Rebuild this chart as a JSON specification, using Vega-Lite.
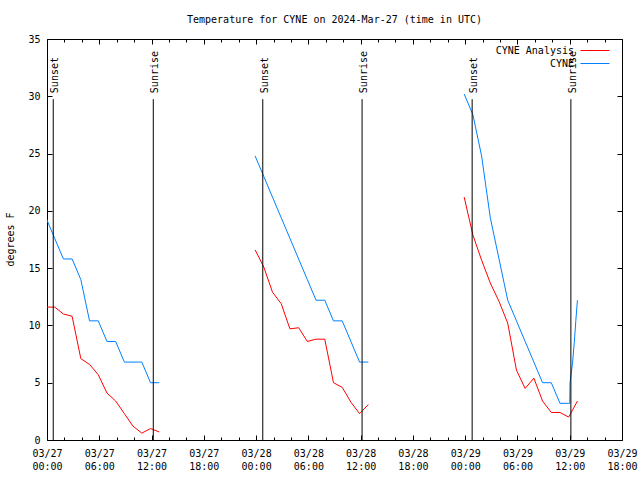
{
  "$schema": "https://vega.github.io/schema/vega-lite/v6.json",
  "width": 575,
  "height": 401,
  "autosize": {"type": "none"},
  "padding": {"left": 47, "top": 39, "right": 18, "bottom": 40},
  "background": "white",
  "title": {"text": "Temperature for CYNE on 2024-Mar-27 (time in UTC)", "font": "DejaVu Sans Mono", "fontSize": 10, "fontWeight": "normal", "offset": 9, "anchor": "middle", "color": "black"},
  "config": {
    "view": {"stroke": "black", "strokeWidth": 1},
    "font": "DejaVu Sans Mono",
    "axis": {"domain": false, "grid": false, "tickColor": "black", "tickWidth": 1, "labelColor": "black", "labelFont": "DejaVu Sans Mono", "labelFontSize": 10, "titleFont": "DejaVu Sans Mono", "titleFontSize": 10, "titleFontWeight": "normal", "titleColor": "black"}
  },
  "datasets": {
    "obs": [
      {"series": "CYNE Analysis", "run": 1, "time": "2024-03-26T23:53:00Z", "temp": 11.6},
      {"series": "CYNE Analysis", "run": 1, "time": "2024-03-27T00:53:00Z", "temp": 11.6},
      {"series": "CYNE Analysis", "run": 1, "time": "2024-03-27T01:53:00Z", "temp": 11.0},
      {"series": "CYNE Analysis", "run": 1, "time": "2024-03-27T02:53:00Z", "temp": 10.8},
      {"series": "CYNE Analysis", "run": 1, "time": "2024-03-27T03:53:00Z", "temp": 7.1},
      {"series": "CYNE Analysis", "run": 1, "time": "2024-03-27T04:53:00Z", "temp": 6.6},
      {"series": "CYNE Analysis", "run": 1, "time": "2024-03-27T05:53:00Z", "temp": 5.7},
      {"series": "CYNE Analysis", "run": 1, "time": "2024-03-27T06:53:00Z", "temp": 4.1},
      {"series": "CYNE Analysis", "run": 1, "time": "2024-03-27T07:53:00Z", "temp": 3.4},
      {"series": "CYNE Analysis", "run": 1, "time": "2024-03-27T08:53:00Z", "temp": 2.3},
      {"series": "CYNE Analysis", "run": 1, "time": "2024-03-27T09:53:00Z", "temp": 1.2},
      {"series": "CYNE Analysis", "run": 1, "time": "2024-03-27T10:53:00Z", "temp": 0.6},
      {"series": "CYNE Analysis", "run": 1, "time": "2024-03-27T11:53:00Z", "temp": 1.0},
      {"series": "CYNE Analysis", "run": 1, "time": "2024-03-27T12:53:00Z", "temp": 0.7},
      {"series": "CYNE Analysis", "run": 2, "time": "2024-03-27T23:53:00Z", "temp": 16.6},
      {"series": "CYNE Analysis", "run": 2, "time": "2024-03-28T00:53:00Z", "temp": 15.1},
      {"series": "CYNE Analysis", "run": 2, "time": "2024-03-28T01:53:00Z", "temp": 12.9},
      {"series": "CYNE Analysis", "run": 2, "time": "2024-03-28T02:53:00Z", "temp": 11.9},
      {"series": "CYNE Analysis", "run": 2, "time": "2024-03-28T03:53:00Z", "temp": 9.7},
      {"series": "CYNE Analysis", "run": 2, "time": "2024-03-28T04:53:00Z", "temp": 9.8},
      {"series": "CYNE Analysis", "run": 2, "time": "2024-03-28T05:53:00Z", "temp": 8.6},
      {"series": "CYNE Analysis", "run": 2, "time": "2024-03-28T06:53:00Z", "temp": 8.8},
      {"series": "CYNE Analysis", "run": 2, "time": "2024-03-28T07:53:00Z", "temp": 8.8},
      {"series": "CYNE Analysis", "run": 2, "time": "2024-03-28T08:53:00Z", "temp": 5.0},
      {"series": "CYNE Analysis", "run": 2, "time": "2024-03-28T09:53:00Z", "temp": 4.6},
      {"series": "CYNE Analysis", "run": 2, "time": "2024-03-28T10:53:00Z", "temp": 3.3},
      {"series": "CYNE Analysis", "run": 2, "time": "2024-03-28T11:53:00Z", "temp": 2.3},
      {"series": "CYNE Analysis", "run": 2, "time": "2024-03-28T12:53:00Z", "temp": 3.1},
      {"series": "CYNE Analysis", "run": 3, "time": "2024-03-28T23:53:00Z", "temp": 21.2},
      {"series": "CYNE Analysis", "run": 3, "time": "2024-03-29T00:53:00Z", "temp": 17.9},
      {"series": "CYNE Analysis", "run": 3, "time": "2024-03-29T01:53:00Z", "temp": 15.7},
      {"series": "CYNE Analysis", "run": 3, "time": "2024-03-29T02:53:00Z", "temp": 13.7},
      {"series": "CYNE Analysis", "run": 3, "time": "2024-03-29T03:53:00Z", "temp": 12.1},
      {"series": "CYNE Analysis", "run": 3, "time": "2024-03-29T04:53:00Z", "temp": 10.2},
      {"series": "CYNE Analysis", "run": 3, "time": "2024-03-29T05:53:00Z", "temp": 6.1},
      {"series": "CYNE Analysis", "run": 3, "time": "2024-03-29T06:53:00Z", "temp": 4.5},
      {"series": "CYNE Analysis", "run": 3, "time": "2024-03-29T07:53:00Z", "temp": 5.4},
      {"series": "CYNE Analysis", "run": 3, "time": "2024-03-29T08:53:00Z", "temp": 3.4},
      {"series": "CYNE Analysis", "run": 3, "time": "2024-03-29T09:53:00Z", "temp": 2.4},
      {"series": "CYNE Analysis", "run": 3, "time": "2024-03-29T10:53:00Z", "temp": 2.4},
      {"series": "CYNE Analysis", "run": 3, "time": "2024-03-29T11:53:00Z", "temp": 2.0},
      {"series": "CYNE Analysis", "run": 3, "time": "2024-03-29T12:53:00Z", "temp": 3.4},
      {"series": "CYNE", "run": 1, "time": "2024-03-26T23:53:00Z", "temp": 19.4},
      {"series": "CYNE", "run": 1, "time": "2024-03-27T00:53:00Z", "temp": 17.6},
      {"series": "CYNE", "run": 1, "time": "2024-03-27T01:53:00Z", "temp": 15.8},
      {"series": "CYNE", "run": 1, "time": "2024-03-27T02:53:00Z", "temp": 15.8},
      {"series": "CYNE", "run": 1, "time": "2024-03-27T03:53:00Z", "temp": 14.0},
      {"series": "CYNE", "run": 1, "time": "2024-03-27T04:53:00Z", "temp": 10.4},
      {"series": "CYNE", "run": 1, "time": "2024-03-27T05:53:00Z", "temp": 10.4},
      {"series": "CYNE", "run": 1, "time": "2024-03-27T06:53:00Z", "temp": 8.6},
      {"series": "CYNE", "run": 1, "time": "2024-03-27T07:53:00Z", "temp": 8.6},
      {"series": "CYNE", "run": 1, "time": "2024-03-27T08:53:00Z", "temp": 6.8},
      {"series": "CYNE", "run": 1, "time": "2024-03-27T09:53:00Z", "temp": 6.8},
      {"series": "CYNE", "run": 1, "time": "2024-03-27T10:53:00Z", "temp": 6.8},
      {"series": "CYNE", "run": 1, "time": "2024-03-27T11:53:00Z", "temp": 5.0},
      {"series": "CYNE", "run": 1, "time": "2024-03-27T12:53:00Z", "temp": 5.0},
      {"series": "CYNE", "run": 2, "time": "2024-03-27T23:53:00Z", "temp": 24.8},
      {"series": "CYNE", "run": 2, "time": "2024-03-28T00:53:00Z", "temp": 23.0},
      {"series": "CYNE", "run": 2, "time": "2024-03-28T01:53:00Z", "temp": 21.2},
      {"series": "CYNE", "run": 2, "time": "2024-03-28T02:53:00Z", "temp": 19.4},
      {"series": "CYNE", "run": 2, "time": "2024-03-28T03:53:00Z", "temp": 17.6},
      {"series": "CYNE", "run": 2, "time": "2024-03-28T04:53:00Z", "temp": 15.8},
      {"series": "CYNE", "run": 2, "time": "2024-03-28T05:53:00Z", "temp": 14.0},
      {"series": "CYNE", "run": 2, "time": "2024-03-28T06:53:00Z", "temp": 12.2},
      {"series": "CYNE", "run": 2, "time": "2024-03-28T07:53:00Z", "temp": 12.2},
      {"series": "CYNE", "run": 2, "time": "2024-03-28T08:53:00Z", "temp": 10.4},
      {"series": "CYNE", "run": 2, "time": "2024-03-28T09:53:00Z", "temp": 10.4},
      {"series": "CYNE", "run": 2, "time": "2024-03-28T10:53:00Z", "temp": 8.6},
      {"series": "CYNE", "run": 2, "time": "2024-03-28T11:53:00Z", "temp": 6.8},
      {"series": "CYNE", "run": 2, "time": "2024-03-28T12:53:00Z", "temp": 6.8},
      {"series": "CYNE", "run": 3, "time": "2024-03-28T23:53:00Z", "temp": 30.2},
      {"series": "CYNE", "run": 3, "time": "2024-03-29T00:53:00Z", "temp": 28.4},
      {"series": "CYNE", "run": 3, "time": "2024-03-29T01:53:00Z", "temp": 24.8},
      {"series": "CYNE", "run": 3, "time": "2024-03-29T02:53:00Z", "temp": 19.4},
      {"series": "CYNE", "run": 3, "time": "2024-03-29T03:53:00Z", "temp": 15.8},
      {"series": "CYNE", "run": 3, "time": "2024-03-29T04:53:00Z", "temp": 12.2},
      {"series": "CYNE", "run": 3, "time": "2024-03-29T05:53:00Z", "temp": 10.4},
      {"series": "CYNE", "run": 3, "time": "2024-03-29T06:53:00Z", "temp": 8.6},
      {"series": "CYNE", "run": 3, "time": "2024-03-29T07:53:00Z", "temp": 6.8},
      {"series": "CYNE", "run": 3, "time": "2024-03-29T08:53:00Z", "temp": 5.0},
      {"series": "CYNE", "run": 3, "time": "2024-03-29T09:53:00Z", "temp": 5.0},
      {"series": "CYNE", "run": 3, "time": "2024-03-29T10:53:00Z", "temp": 3.2},
      {"series": "CYNE", "run": 3, "time": "2024-03-29T11:53:00Z", "temp": 3.2},
      {"series": "CYNE", "run": 3, "time": "2024-03-29T12:00:00Z", "temp": 3.2},
      {"series": "CYNE", "run": 3, "time": "2024-03-29T12:02:00Z", "temp": 5.0},
      {"series": "CYNE", "run": 3, "time": "2024-03-29T12:20:00Z", "temp": 6.8},
      {"series": "CYNE", "run": 3, "time": "2024-03-29T12:32:00Z", "temp": 8.6},
      {"series": "CYNE", "run": 3, "time": "2024-03-29T12:42:00Z", "temp": 10.4},
      {"series": "CYNE", "run": 3, "time": "2024-03-29T12:53:00Z", "temp": 12.2}
    ],
    "sun": [
      {"event": "Sunset", "time": "2024-03-27T00:43:00Z"},
      {"event": "Sunrise", "time": "2024-03-27T12:12:00Z"},
      {"event": "Sunset", "time": "2024-03-28T00:46:00Z"},
      {"event": "Sunrise", "time": "2024-03-28T12:10:00Z"},
      {"event": "Sunset", "time": "2024-03-29T00:48:00Z"},
      {"event": "Sunrise", "time": "2024-03-29T12:08:00Z"}
    ]
  },
  "layer": [
    {
      "data": {"name": "obs"},
      "transform": [{"filter": "datum.series == 'CYNE Analysis'"}],
      "mark": {"type": "line", "clip": true, "strokeWidth": 1},
      "encoding": {
        "x": {
          "field": "time", "type": "temporal",
          "scale": {"type": "utc", "domain": [{"year": 2024, "month": 3, "date": 27, "hours": 0, "utc": true}, {"year": 2024, "month": 3, "date": 29, "hours": 18, "utc": true}]},
          "axis": {"orient": "bottom", "title": null, "values": [
            {"year": 2024, "month": 3, "date": 27, "hours": 0, "utc": true}, {"year": 2024, "month": 3, "date": 27, "hours": 6, "utc": true}, {"year": 2024, "month": 3, "date": 27, "hours": 12, "utc": true}, {"year": 2024, "month": 3, "date": 27, "hours": 18, "utc": true},
            {"year": 2024, "month": 3, "date": 28, "hours": 0, "utc": true}, {"year": 2024, "month": 3, "date": 28, "hours": 6, "utc": true}, {"year": 2024, "month": 3, "date": 28, "hours": 12, "utc": true}, {"year": 2024, "month": 3, "date": 28, "hours": 18, "utc": true},
            {"year": 2024, "month": 3, "date": 29, "hours": 0, "utc": true}, {"year": 2024, "month": 3, "date": 29, "hours": 6, "utc": true}, {"year": 2024, "month": 3, "date": 29, "hours": 12, "utc": true}, {"year": 2024, "month": 3, "date": 29, "hours": 18, "utc": true}],
            "labelExpr": "utcFormat(datum.value, '%m/%d')", "offset": -5, "tickSize": 5, "labelPadding": 8, "labelFlush": false, "labelOverlap": false}
        },
        "y": {
          "field": "temp", "type": "quantitative",
          "scale": {"domain": [0, 35], "nice": false, "zero": false},
          "axis": {"orient": "left", "values": [0, 5, 10, 15, 20, 25, 30, 35], "offset": -5, "tickSize": 5, "labelPadding": 7, "title": "degrees F", "titleX": -42, "titleY": 200, "titleAngle": 270, "titleAlign": "center", "titleBaseline": "middle"}
        },
        "color": {
          "field": "series", "type": "nominal",
          "scale": {"domain": ["CYNE Analysis", "CYNE"], "range": ["#ff0000", "#0080ff"]},
          "legend": {"orient": "none", "legendX": 540.5, "legendY": 4, "title": null, "symbolType": "M-2.07,0H2.07", "symbolSize": 196, "symbolStrokeWidth": 1, "symbolFillColor": "transparent", "labelAlign": "right", "labelOffset": -28.5, "labelFont": "DejaVu Sans Mono", "labelFontSize": 10, "labelColor": "black", "padding": 0, "rowPadding": 0, "offset": 0}
        },
        "detail": {"field": "run", "type": "nominal"}
      }
    },
    {
      "data": {"name": "obs"},
      "transform": [{"filter": "datum.series == 'CYNE'"}],
      "mark": {"type": "line", "clip": true, "strokeWidth": 1},
      "encoding": {
        "x": {
          "field": "time", "type": "temporal", "scale": {"type": "utc"},
          "axis": {"orient": "bottom", "title": null, "values": [
            {"year": 2024, "month": 3, "date": 27, "hours": 0, "utc": true}, {"year": 2024, "month": 3, "date": 27, "hours": 6, "utc": true}, {"year": 2024, "month": 3, "date": 27, "hours": 12, "utc": true}, {"year": 2024, "month": 3, "date": 27, "hours": 18, "utc": true},
            {"year": 2024, "month": 3, "date": 28, "hours": 0, "utc": true}, {"year": 2024, "month": 3, "date": 28, "hours": 6, "utc": true}, {"year": 2024, "month": 3, "date": 28, "hours": 12, "utc": true}, {"year": 2024, "month": 3, "date": 28, "hours": 18, "utc": true},
            {"year": 2024, "month": 3, "date": 29, "hours": 0, "utc": true}, {"year": 2024, "month": 3, "date": 29, "hours": 6, "utc": true}, {"year": 2024, "month": 3, "date": 29, "hours": 12, "utc": true}, {"year": 2024, "month": 3, "date": 29, "hours": 18, "utc": true}],
            "labelExpr": "utcFormat(datum.value, '%H:%M')", "ticks": false, "labelPadding": 21, "labelFlush": false, "labelOverlap": false}
        },
        "y": {"field": "temp", "type": "quantitative", "axis": null},
        "color": {"field": "series", "type": "nominal"},
        "detail": {"field": "run", "type": "nominal"}
      }
    },
    {
      "data": {"name": "sun"},
      "transform": [{"filter": "datum.event == 'Sunset'"}],
      "mark": {"type": "rule", "color": "black", "strokeWidth": 1},
      "encoding": {
        "x": {"field": "time", "type": "temporal", "scale": {"type": "utc"}, "axis": {"orient": "bottom", "title": null, "values": [
            {"year": 2024, "month": 3, "date": 27, "hours": 2, "utc": true}, {"year": 2024, "month": 3, "date": 27, "hours": 4, "utc": true}, {"year": 2024, "month": 3, "date": 27, "hours": 8, "utc": true}, {"year": 2024, "month": 3, "date": 27, "hours": 10, "utc": true},
            {"year": 2024, "month": 3, "date": 27, "hours": 14, "utc": true}, {"year": 2024, "month": 3, "date": 27, "hours": 16, "utc": true}, {"year": 2024, "month": 3, "date": 27, "hours": 20, "utc": true}, {"year": 2024, "month": 3, "date": 27, "hours": 22, "utc": true},
            {"year": 2024, "month": 3, "date": 28, "hours": 2, "utc": true}, {"year": 2024, "month": 3, "date": 28, "hours": 4, "utc": true}, {"year": 2024, "month": 3, "date": 28, "hours": 8, "utc": true}, {"year": 2024, "month": 3, "date": 28, "hours": 10, "utc": true},
            {"year": 2024, "month": 3, "date": 28, "hours": 14, "utc": true}, {"year": 2024, "month": 3, "date": 28, "hours": 16, "utc": true}, {"year": 2024, "month": 3, "date": 28, "hours": 20, "utc": true}, {"year": 2024, "month": 3, "date": 28, "hours": 22, "utc": true},
            {"year": 2024, "month": 3, "date": 29, "hours": 2, "utc": true}, {"year": 2024, "month": 3, "date": 29, "hours": 4, "utc": true}, {"year": 2024, "month": 3, "date": 29, "hours": 8, "utc": true}, {"year": 2024, "month": 3, "date": 29, "hours": 10, "utc": true},
            {"year": 2024, "month": 3, "date": 29, "hours": 14, "utc": true}, {"year": 2024, "month": 3, "date": 29, "hours": 16, "utc": true}],
            "labels": false, "offset": -3, "tickSize": 3}},
        "y": {"datum": 0, "type": "quantitative", "axis": {"orient": "right", "title": null, "values": [0, 5, 10, 15, 20, 25, 30, 35], "labels": false, "offset": -5, "tickSize": 5}},
        "y2": {"datum": 29.75}
      }
    },
    {
      "data": {"name": "sun"},
      "transform": [{"filter": "datum.event == 'Sunrise'"}],
      "mark": {"type": "rule", "color": "black", "strokeWidth": 1},
      "encoding": {
        "x": {"field": "time", "type": "temporal", "scale": {"type": "utc"}, "axis": {"orient": "top", "title": null, "values": [
            {"year": 2024, "month": 3, "date": 27, "hours": 0, "utc": true}, {"year": 2024, "month": 3, "date": 27, "hours": 6, "utc": true}, {"year": 2024, "month": 3, "date": 27, "hours": 12, "utc": true}, {"year": 2024, "month": 3, "date": 27, "hours": 18, "utc": true},
            {"year": 2024, "month": 3, "date": 28, "hours": 0, "utc": true}, {"year": 2024, "month": 3, "date": 28, "hours": 6, "utc": true}, {"year": 2024, "month": 3, "date": 28, "hours": 12, "utc": true}, {"year": 2024, "month": 3, "date": 28, "hours": 18, "utc": true},
            {"year": 2024, "month": 3, "date": 29, "hours": 0, "utc": true}, {"year": 2024, "month": 3, "date": 29, "hours": 6, "utc": true}, {"year": 2024, "month": 3, "date": 29, "hours": 12, "utc": true}, {"year": 2024, "month": 3, "date": 29, "hours": 18, "utc": true}],
            "labels": false, "offset": -5, "tickSize": 5}},
        "y": {"datum": 0, "type": "quantitative", "axis": null},
        "y2": {"datum": 29.75}
      }
    },
    {
      "data": {"name": "sun"},
      "mark": {"type": "text", "angle": 270, "align": "left", "baseline": "middle", "dx": 6, "dy": 2, "font": "DejaVu Sans Mono", "fontSize": 10, "color": "black"},
      "encoding": {
        "x": {"field": "time", "type": "temporal", "scale": {"type": "utc"}, "axis": {"orient": "top", "title": null, "values": [
            {"year": 2024, "month": 3, "date": 27, "hours": 2, "utc": true}, {"year": 2024, "month": 3, "date": 27, "hours": 4, "utc": true}, {"year": 2024, "month": 3, "date": 27, "hours": 8, "utc": true}, {"year": 2024, "month": 3, "date": 27, "hours": 10, "utc": true},
            {"year": 2024, "month": 3, "date": 27, "hours": 14, "utc": true}, {"year": 2024, "month": 3, "date": 27, "hours": 16, "utc": true}, {"year": 2024, "month": 3, "date": 27, "hours": 20, "utc": true}, {"year": 2024, "month": 3, "date": 27, "hours": 22, "utc": true},
            {"year": 2024, "month": 3, "date": 28, "hours": 2, "utc": true}, {"year": 2024, "month": 3, "date": 28, "hours": 4, "utc": true}, {"year": 2024, "month": 3, "date": 28, "hours": 8, "utc": true}, {"year": 2024, "month": 3, "date": 28, "hours": 10, "utc": true},
            {"year": 2024, "month": 3, "date": 28, "hours": 14, "utc": true}, {"year": 2024, "month": 3, "date": 28, "hours": 16, "utc": true}, {"year": 2024, "month": 3, "date": 28, "hours": 20, "utc": true}, {"year": 2024, "month": 3, "date": 28, "hours": 22, "utc": true},
            {"year": 2024, "month": 3, "date": 29, "hours": 2, "utc": true}, {"year": 2024, "month": 3, "date": 29, "hours": 4, "utc": true}, {"year": 2024, "month": 3, "date": 29, "hours": 8, "utc": true}, {"year": 2024, "month": 3, "date": 29, "hours": 10, "utc": true},
            {"year": 2024, "month": 3, "date": 29, "hours": 14, "utc": true}, {"year": 2024, "month": 3, "date": 29, "hours": 16, "utc": true}],
            "labels": false, "offset": -3, "tickSize": 3}},
        "y": {"datum": 29.75, "type": "quantitative", "axis": null},
        "text": {"field": "event"}
      }
    }
  ],
  "resolve": {"scale": {"x": "shared", "y": "shared"}, "axis": {"x": "independent", "y": "independent"}}
}
